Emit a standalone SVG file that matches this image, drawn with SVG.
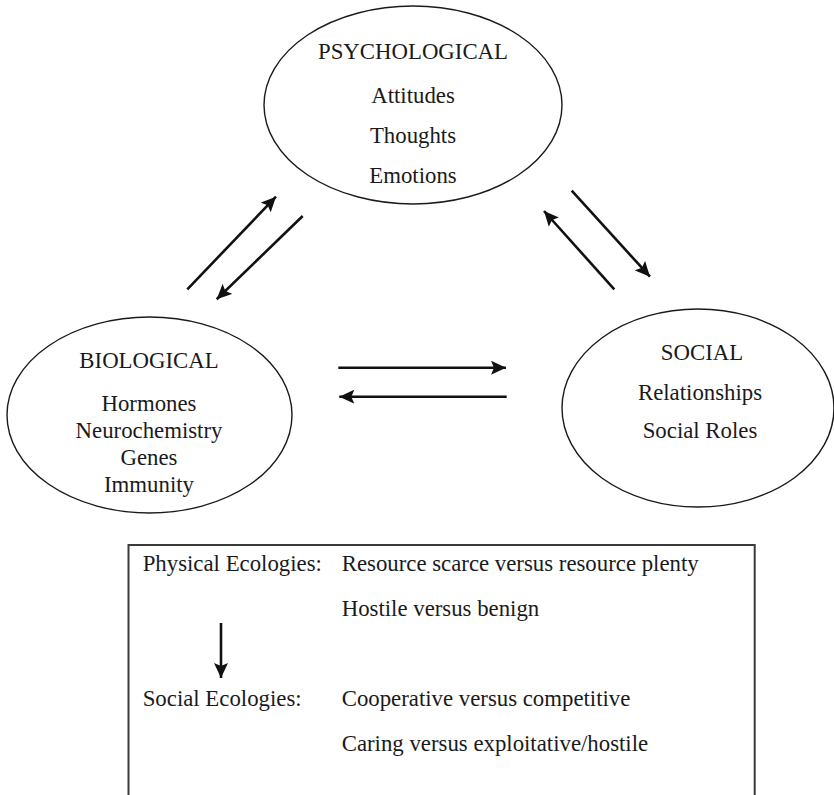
<svg xmlns="http://www.w3.org/2000/svg" width="834" height="795" viewBox="0 0 834 795">
<defs>
<style>
.node ellipse{fill:none;stroke:#1a1a1a;stroke-width:1.4}
text{font-family:"Liberation Serif","Times New Roman",serif;font-size:22.8px;fill:#1a1a1a}
.c{text-anchor:middle}
.conn line{stroke:#111;stroke-width:2.6;fill:none}
</style>
<marker id="ah" markerUnits="userSpaceOnUse" markerWidth="16" markerHeight="14" refX="15" refY="7" orient="auto">
<path d="M0,0 L15,7 L0,14 L3,7 Z" fill="#111"/>
</marker>
</defs>
<rect width="834" height="795" fill="#fff"/>
<g id="psychological" class="node">
<ellipse cx="413" cy="105" rx="149" ry="99"/>
<text class="c" x="413" y="59">PSYCHOLOGICAL</text>
<text class="c" x="413" y="103">Attitudes</text>
<text class="c" x="413" y="143">Thoughts</text>
<text class="c" x="413" y="183">Emotions</text>
</g>
<g id="biological" class="node">
<ellipse cx="149.5" cy="415" rx="142.5" ry="98"/>
<text class="c" x="149" y="368">BIOLOGICAL</text>
<text class="c" x="149" y="411">Hormones</text>
<text class="c" x="149" y="438">Neurochemistry</text>
<text class="c" x="149" y="465">Genes</text>
<text class="c" x="149" y="492">Immunity</text>
</g>
<g id="social" class="node">
<ellipse cx="698" cy="408" rx="136" ry="99"/>
<text class="c" x="702" y="360">SOCIAL</text>
<text class="c" x="700" y="400">Relationships</text>
<text class="c" x="700" y="438">Social Roles</text>
</g>
<g id="connectors" class="conn">
<line x1="187.3" y1="289.3" x2="276" y2="196.7" marker-end="url(#ah)"/>
<line x1="302.7" y1="216" x2="216.7" y2="299.3" marker-end="url(#ah)"/>
<line x1="571.7" y1="190.7" x2="650" y2="276.7" marker-end="url(#ah)"/>
<line x1="614.3" y1="289.3" x2="544" y2="211" marker-end="url(#ah)"/>
<line x1="338.3" y1="367.7" x2="506" y2="367.7" marker-end="url(#ah)"/>
<line x1="506.7" y1="396.7" x2="339.3" y2="396.7" marker-end="url(#ah)"/>
</g>
<g id="ecologies">
<path d="M128.5,800 V545 H754.7 V800" fill="none" stroke="#3a3a3a" stroke-width="2"/>
<text x="142.7" y="571">Physical Ecologies:</text>
<text x="341.7" y="571">Resource scarce versus resource plenty</text>
<text x="341.7" y="616">Hostile versus benign</text>
<text x="142.7" y="706">Social Ecologies:</text>
<text x="341.7" y="706">Cooperative versus competitive</text>
<text x="341.7" y="751">Caring versus exploitative/hostile</text>
<g class="conn"><line x1="221" y1="623" x2="221" y2="678" marker-end="url(#ah)"/></g>
</g>
</svg>
